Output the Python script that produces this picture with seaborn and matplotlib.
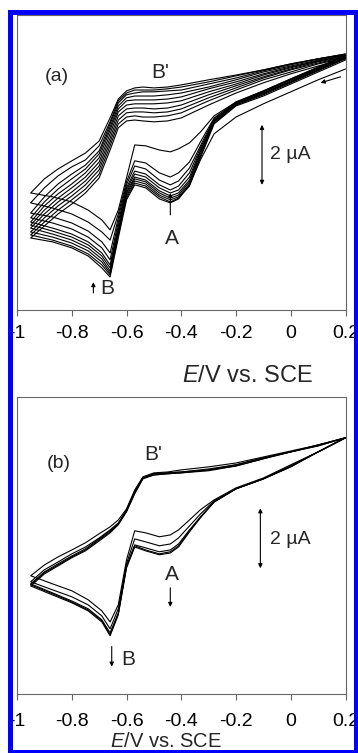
import pandas as pd
import matplotlib.pyplot as plt
import seaborn as sns
from matplotlib.patches import Rectangle

# potential grids (V vs SCE): cathodic sweep 0.2 -> -0.95, anodic sweep -0.95 -> 0.2
E_cath = [0.2, 0.1, 0.0, -0.1, -0.2, -0.28, -0.33, -0.37, -0.41, -0.44, -0.48,
          -0.53, -0.57, -0.6, -0.63, -0.66, -0.69, -0.74, -0.8, -0.87, -0.95]
E_anod = [-0.95, -0.9, -0.85, -0.8, -0.75, -0.7, -0.66, -0.63, -0.6, -0.57,
          -0.54, -0.5, -0.45, -0.4, -0.3, -0.2, -0.1, 0.0, 0.1, 0.2]

# panel (a): current (uA, arbitrary offset), one row per scan
a_cath = [
    [4.53, 4.17, 3.77, 3.37, 2.93, 2.37, 1.50, 0.67, 0.20, 0.07, 0.20, 0.57, 0.67, 0.17, -1.10, -2.40, -2.10, -1.70, -1.43, -1.23, -1.10],
    [4.83, 4.43, 4.03, 3.63, 3.30, 2.70, 1.57, 0.63, 0.23, 0.10, 0.27, 0.63, 0.73, 0.23, -1.00, -2.33, -2.00, -1.63, -1.37, -1.17, -1.00],
    [4.87, 4.47, 4.07, 3.67, 3.33, 2.73, 1.63, 0.70, 0.27, 0.17, 0.33, 0.70, 0.80, 0.30, -0.93, -2.27, -1.90, -1.53, -1.27, -1.07, -0.90],
    [4.90, 4.50, 4.10, 3.70, 3.33, 2.77, 1.70, 0.77, 0.33, 0.23, 0.40, 0.77, 0.87, 0.37, -0.87, -2.20, -1.80, -1.43, -1.17, -0.97, -0.77],
    [4.90, 4.50, 4.10, 3.73, 3.37, 2.80, 1.77, 0.83, 0.40, 0.30, 0.47, 0.83, 0.93, 0.43, -0.80, -2.10, -1.70, -1.33, -1.07, -0.87, -0.67],
    [4.93, 4.53, 4.13, 3.73, 3.37, 2.80, 1.83, 0.93, 0.50, 0.40, 0.57, 0.93, 1.03, 0.50, -0.70, -2.00, -1.60, -1.23, -0.97, -0.77, -0.57],
    [4.93, 4.53, 4.17, 3.77, 3.40, 2.83, 1.90, 1.07, 0.63, 0.50, 0.67, 1.03, 1.13, 0.57, -0.57, -1.83, -1.43, -1.07, -0.80, -0.60, -0.43],
    [4.97, 4.57, 4.17, 3.77, 3.40, 2.87, 1.97, 1.23, 0.80, 0.67, 0.83, 1.20, 1.30, 0.67, -0.43, -1.60, -1.23, -0.87, -0.60, -0.40, -0.27],
    [4.97, 4.57, 4.20, 3.80, 3.43, 2.90, 2.10, 1.43, 1.07, 0.93, 1.07, 1.40, 1.47, 0.77, -0.30, -1.17, -0.90, -0.57, -0.30, -0.10, 0.07],
    [4.97, 4.60, 4.20, 3.80, 3.43, 2.97, 2.43, 2.07, 1.87, 1.77, 1.83, 1.97, 2.00, 0.90, -0.17, -0.83, -0.50, -0.17, 0.10, 0.27, 0.40],
]
a_anod = [
    [-1.10, -0.70, -0.30, 0.03, 0.40, 0.90, 1.83, 2.57, 2.80, 2.83, 2.80, 2.77, 2.80, 2.90, 3.33, 3.73, 4.07, 4.37, 4.63, 4.87],
    [-1.00, -0.57, -0.17, 0.17, 0.53, 1.03, 1.97, 2.70, 2.93, 2.97, 2.93, 2.93, 2.97, 3.07, 3.47, 3.83, 4.17, 4.43, 4.70, 4.90],
    [-0.90, -0.43, -0.03, 0.30, 0.67, 1.17, 2.10, 2.83, 3.07, 3.10, 3.10, 3.07, 3.10, 3.20, 3.57, 3.90, 4.23, 4.50, 4.73, 4.93],
    [-0.77, -0.30, 0.10, 0.43, 0.80, 1.30, 2.23, 2.97, 3.20, 3.23, 3.23, 3.20, 3.23, 3.33, 3.67, 3.97, 4.27, 4.53, 4.77, 4.93],
    [-0.67, -0.17, 0.23, 0.57, 0.93, 1.43, 2.37, 3.10, 3.33, 3.37, 3.37, 3.37, 3.40, 3.47, 3.77, 4.03, 4.33, 4.57, 4.80, 4.97],
    [-0.57, -0.03, 0.37, 0.70, 1.07, 1.57, 2.50, 3.20, 3.47, 3.50, 3.50, 3.50, 3.53, 3.60, 3.87, 4.10, 4.37, 4.60, 4.80, 4.97],
    [-0.43, 0.10, 0.53, 0.87, 1.20, 1.70, 2.60, 3.30, 3.57, 3.63, 3.63, 3.63, 3.67, 3.73, 3.93, 4.17, 4.43, 4.63, 4.83, 5.00],
    [-0.27, 0.27, 0.70, 1.03, 1.33, 1.80, 2.70, 3.40, 3.67, 3.73, 3.77, 3.77, 3.80, 3.83, 4.03, 4.23, 4.47, 4.67, 4.87, 5.00],
    [0.07, 0.57, 0.97, 1.27, 1.50, 1.97, 2.77, 3.47, 3.73, 3.83, 3.83, 3.83, 3.87, 3.93, 4.10, 4.30, 4.50, 4.70, 4.87, 5.03],
    [0.40, 0.87, 1.20, 1.47, 1.73, 2.13, 2.90, 3.53, 3.80, 3.90, 3.93, 3.90, 3.93, 4.00, 4.17, 4.33, 4.50, 4.70, 4.87, 5.03],
]

# panel (b)
b_cath = [
    [3.97, 3.50, 3.00, 2.60, 2.27, 1.83, 1.30, 0.83, 0.33, 0.13, 0.07, 0.20, 0.33, -0.37, -1.93, -2.63, -2.17, -1.80, -1.53, -1.27, -0.97],
    [3.97, 3.50, 3.00, 2.60, 2.27, 1.83, 1.33, 0.87, 0.37, 0.17, 0.10, 0.23, 0.37, -0.33, -1.90, -2.60, -2.13, -1.77, -1.50, -1.23, -0.93],
    [3.97, 3.50, 3.03, 2.60, 2.27, 1.83, 1.33, 0.90, 0.43, 0.23, 0.17, 0.30, 0.40, -0.30, -1.87, -2.53, -2.10, -1.73, -1.47, -1.20, -0.90],
    [3.97, 3.50, 3.03, 2.60, 2.27, 1.87, 1.43, 1.03, 0.63, 0.43, 0.37, 0.50, 0.60, -0.23, -1.73, -2.40, -1.97, -1.60, -1.33, -1.10, -0.83],
    [3.97, 3.50, 3.07, 2.63, 2.30, 1.90, 1.57, 1.23, 0.90, 0.73, 0.67, 0.80, 0.87, -0.10, -1.60, -2.17, -1.80, -1.43, -1.13, -0.90, -0.63],
]
b_anod = [
    [-0.97, -0.57, -0.30, -0.03, 0.20, 0.53, 0.80, 1.07, 1.50, 2.10, 2.60, 2.73, 2.77, 2.80, 2.87, 3.03, 3.27, 3.50, 3.70, 3.97],
    [-0.93, -0.53, -0.27, 0.00, 0.23, 0.57, 0.83, 1.10, 1.53, 2.13, 2.63, 2.73, 2.77, 2.80, 2.90, 3.03, 3.27, 3.50, 3.70, 3.97],
    [-0.90, -0.50, -0.23, 0.03, 0.27, 0.60, 0.87, 1.10, 1.57, 2.17, 2.63, 2.77, 2.80, 2.83, 2.90, 3.07, 3.30, 3.50, 3.73, 3.97],
    [-0.83, -0.43, -0.17, 0.10, 0.33, 0.63, 0.90, 1.13, 1.53, 2.17, 2.63, 2.77, 2.80, 2.83, 2.93, 3.07, 3.30, 3.50, 3.73, 3.97],
    [-0.63, -0.27, 0.00, 0.23, 0.47, 0.77, 1.00, 1.23, 1.60, 2.23, 2.67, 2.80, 2.83, 2.90, 3.00, 3.13, 3.33, 3.53, 3.73, 3.97],
]

xticks = [-1, -0.8, -0.6, -0.4, -0.2, 0, 0.2]
xtick_labels = ['-1', '-0.8', '-0.6', '-0.4', '-0.2', '0', '0.2']


def make_df(cath, anod):
    rows = []
    for k, (c, a) in enumerate(zip(cath, anod)):
        for e, i in zip(E_cath + E_anod, c + a):
            rows.append((k, e, i))
    return pd.DataFrame(rows, columns=['scan', 'E', 'I'])


sns.set_theme(style='white')
plt.rcParams['font.family'] = ['Liberation Sans', 'DejaVu Sans']
plt.rcParams['mathtext.fontset'] = 'custom'
plt.rcParams['mathtext.it'] = 'Liberation Sans:italic'
plt.rcParams['mathtext.rm'] = 'Liberation Sans'
plt.rcParams['axes.unicode_minus'] = False

fig = plt.figure(figsize=(3.58, 7.53), dpi=100)
ax_a = fig.add_axes([0.0475, 0.5883, 0.9176, 0.3918])
ax_b = fig.add_axes([0.0475, 0.0784, 0.9176, 0.3944])

arrow = dict(arrowstyle='-|>', color='black', lw=0.8, mutation_scale=6, shrinkA=0, shrinkB=0)
bar = dict(arrowstyle='<|-|>', color='black', lw=0.8, mutation_scale=6, shrinkA=0, shrinkB=0)

panels = [
    (ax_a, make_df(a_cath, a_anod), (-3.5, 6.33)),
    (ax_b, make_df(b_cath, b_anod), (-4.57, 5.33)),
]
for ax, df, ylim in panels:
    sns.lineplot(data=df, x='E', y='I', units='scan', estimator=None, sort=False,
                 color='black', lw=0.8, ax=ax)
    ax.set_xlim(-1, 0.2)
    ax.set_ylim(*ylim)
    ax.set_yticks([])
    ax.set_ylabel('')
    ax.set_xticks(xticks)
    ax.set_xticklabels(xtick_labels)
    for s in ax.spines.values():
        s.set_color('#666666')
        s.set_linewidth(0.8)
    ax.tick_params(axis='x', bottom=True, direction='out', length=4, width=0.8,
                   color='#666666', labelsize=14, labelcolor='black')

# panel (a) annotations
ax_a.tick_params(axis='x', pad=6.5)
ax_a.set_xlabel('$E$/V vs. SCE', fontsize=17)
ax_a.xaxis.set_label_coords(0.702, -0.186)
ax_a.text(-0.854, 4.27, '(a)', fontsize=14, ha='center', va='center')
ax_a.text(-0.477, 4.43, "B'", fontsize=15, ha='center', va='center')
ax_a.text(-0.434, -1.11, 'A', fontsize=15, ha='center', va='center')
ax_a.text(-0.672, -2.77, 'B', fontsize=15, ha='center', va='center')
ax_a.annotate('', xy=(-0.44, 0.40), xytext=(-0.44, -0.33), arrowprops=arrow)
ax_a.annotate('', xy=(-0.721, -2.57), xytext=(-0.721, -2.93), arrowprops=arrow)
ax_a.annotate('', xy=(0.109, 4.07), xytext=(0.182, 4.27), arrowprops=arrow)
ax_a.annotate('', xy=(-0.105, 2.67), xytext=(-0.105, 0.67), arrowprops=bar)
ax_a.text(-0.074, 1.67, '2 \u00b5A', fontsize=14, ha='left', va='center')

# panel (b) annotations
ax_b.tick_params(axis='x', pad=10)
ax_b.set_xlabel('$E$/V vs. SCE', fontsize=14.5)
ax_b.xaxis.set_label_coords(0.454, -0.128)
ax_b.text(-0.849, 3.12, '(b)', fontsize=14, ha='center', va='center')
ax_b.text(-0.501, 3.40, "B'", fontsize=15, ha='center', va='center')
ax_b.text(-0.434, -0.60, 'A', fontsize=15, ha='center', va='center')
ax_b.text(-0.593, -3.43, 'B', fontsize=15, ha='center', va='center')
ax_b.annotate('', xy=(-0.44, -1.67), xytext=(-0.44, -1.03), arrowprops=arrow)
ax_b.annotate('', xy=(-0.654, -3.66), xytext=(-0.654, -2.99), arrowprops=arrow)
ax_b.annotate('', xy=(-0.111, 1.62), xytext=(-0.111, -0.38), arrowprops=bar)
ax_b.text(-0.074, 0.57, '2 \u00b5A', fontsize=14, ha='left', va='center')

# blue frame around the figure
W, H = 358, 753
blue = '#0000ff'
for x0, y0, w, h in [(8, 10, 5, 743), (8, 10, 350, 5), (354, 10, 4, 743), (8, 750, 350, 3)]:
    fig.add_artist(Rectangle((x0 / W, 1 - (y0 + h) / H), w / W, h / H,
                             transform=fig.transFigure, facecolor=blue,
                             edgecolor='none', zorder=10))

fig.savefig('out.png', dpi=100)
